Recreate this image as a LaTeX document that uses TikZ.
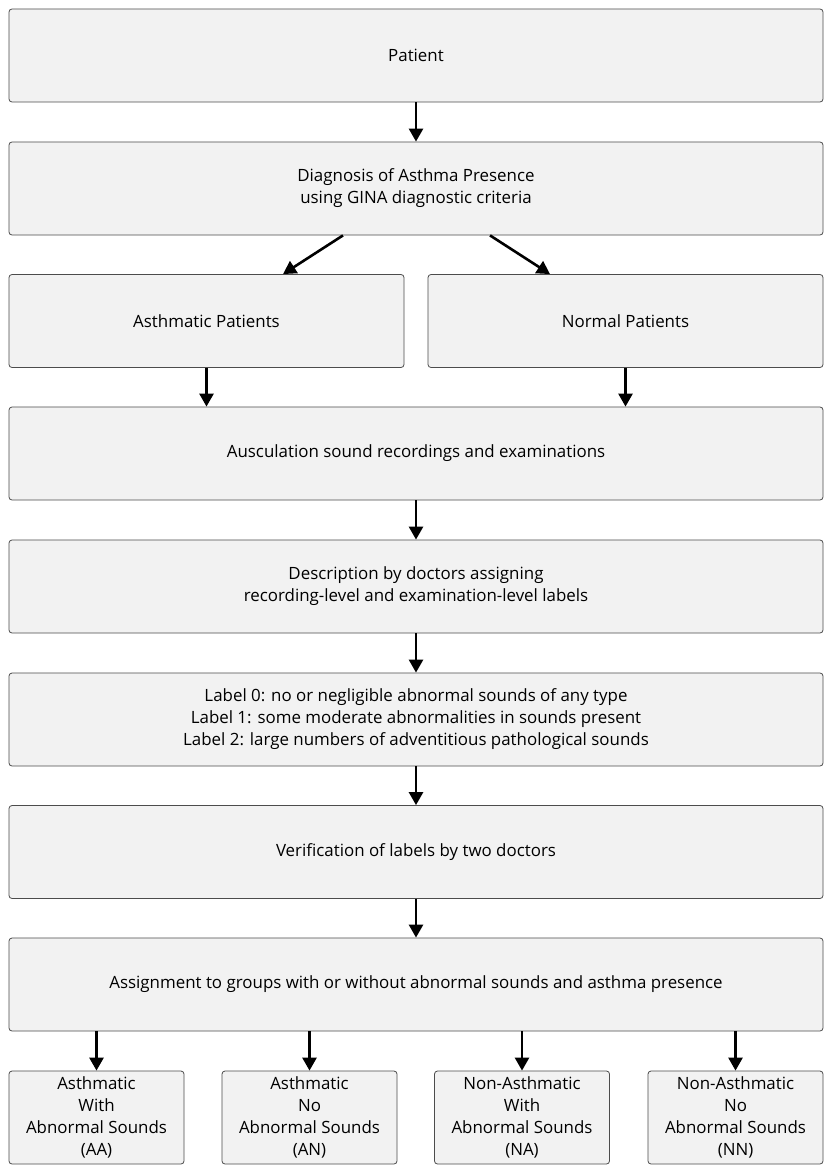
\documentclass[tikz,border=0pt]{standalone}
\usepackage{fontspec}
\setmainfont{Open Sans}
\usepackage{tikz}
\usetikzlibrary{positioning,arrows.meta}

\begin{document}
\begin{tikzpicture}[x=1pt,y=-1pt,
	every node/.style={rectangle,rounded corners=3pt,draw=black!70,fill=black!5,line width=0.8pt,text=black,
		align=center,inner sep=0pt,font=\fontsize{16.9}{22}\selectfont},
	wide/.style={minimum width=814pt,minimum height=93pt},
	half/.style={minimum width=395pt,minimum height=93pt},
	small/.style={minimum width=175pt,minimum height=93pt},
	flow/.style={-{Triangle[length=13pt,width=14pt]},line width=2.6pt}]
			\fill[white] (0,0) rectangle (829,1169);

			\node[wide] (n1) at (416,55.5) {Patient};
			\node[wide] (n2) at (416,188.5) {Diagnosis of Asthma Presence\\ using GINA diagnostic criteria};
			\node[half] (n3) at (206.5,321) {Asthmatic Patients};
			\node[half] (n4) at (625.5,321) {Normal Patients};
			\node[wide] (n5) at (416,453.5) {Ausculation sound recordings and examinations};
			\node[wide] (n6) at (416,586.5) {Description by doctors assigning\\recording-level and examination-level labels};
			\node[wide] (n7) at (416,719.5) {Label 0: no or negligible abnormal sounds of any type\\Label 1: some moderate abnormalities in sounds present\\Label 2: large numbers of adventitious pathological sounds};
			\node[wide] (n8) at (416,852) {Verification of labels by two doctors};
			\node[wide] (n9) at (416,984.5) {Assignment to groups with or without abnormal sounds and asthma presence};
			\node[small] (aa) at (96.5,1117.5) {Asthmatic\\With\\Abnormal Sounds\\(AA)};
			\node[small] (an) at (309.5,1117.5) {Asthmatic\\No\\Abnormal Sounds\\(AN)};
			\node[small] (na) at (522,1117.5) {Non-Asthmatic\\With\\Abnormal Sounds\\(NA)};
			\node[small] (nn) at (735.5,1117.5) {Non-Asthmatic\\No\\Abnormal Sounds\\(NN)};

			\draw[flow] (n1) -- (n2);
			\draw[flow] ([xshift=-73pt]n2.south) -- ([xshift=76.5pt]n3.north);
			\draw[flow] ([xshift=74pt]n2.south) -- ([xshift=-75.5pt]n4.north);
			\draw[flow] (n3) -- (n3 |- n5.north);
			\draw[flow] (n4) -- (n4 |- n5.north);
			\draw[flow] (n5) -- (n6);
			\draw[flow] (n6) -- (n7);
			\draw[flow] (n7) -- (n8);
			\draw[flow] (n8) -- (n9);
			\draw[flow] (n9.south -| aa) -- (aa);
			\draw[flow] (n9.south -| an) -- (an);
			\draw[flow] (n9.south -| na) -- (na);
			\draw[flow] (n9.south -| nn) -- (nn);
		\end{tikzpicture}
\end{document}
